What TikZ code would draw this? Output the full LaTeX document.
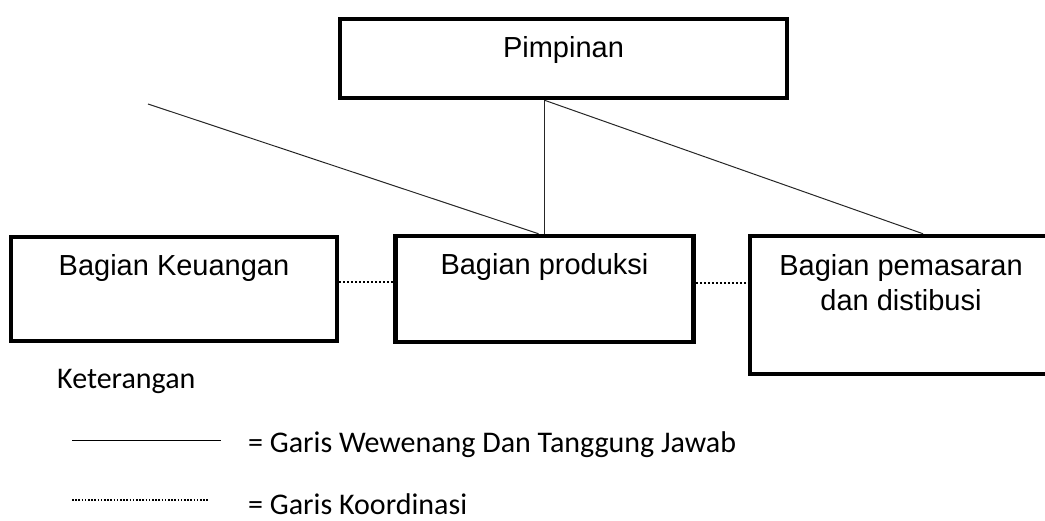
\documentclass[tikz,border=0pt]{standalone}
\usepackage{fontspec}
\setmainfont{Liberation Sans}
\newfontfamily\legendfont{Carlito}
\usetikzlibrary{positioning, calc}

\begin{document}
\begin{tikzpicture}[
  x=1pt, y=-1pt,
  unitbox/.style={
    rectangle, draw=black, line width=4.5pt,
    inner sep=0pt, text height=39pt, align=center,
    font=\fontsize{29}{35}\selectfont
  },
  authline/.style={line width=1pt, draw=black!85},
  coordline/.style={line width=2.4pt, dash pattern=on 2.2pt off 1.8pt},
  legendline/.style={line width=1pt},
  legenddots/.style={line width=1.8pt, dash pattern=on 1.6pt off 1.6pt},
  legendtext/.style={
    anchor=base west, inner sep=0pt, text depth=0pt,
    font=\legendfont\fontsize{30}{35}\selectfont
  }
]
\path[use as bounding box, clip] (0,0) rectangle (1045,521);

% ── Top ──
\node[unitbox, minimum width=447pt, text depth=40pt] (pimpinan) at (563.5,58.5) {Pimpinan};

% ── Units (side by side) ──
\node[unitbox, minimum width=326pt, text depth=65pt] (keuangan) at (174,289) {Bagian Keuangan};
\node[unitbox, minimum width=298pt, text depth=67pt, right=54pt of keuangan] (produksi) {Bagian produksi};
\node[unitbox, minimum width=302pt, text height=75pt, text depth=63pt, anchor=north west]
  (pemasaran) at ($(produksi.north east)+(52,0)$) {Bagian pemasaran\\dan distibusi};

% ── Free end of the long line ──
\coordinate (kiri) at (148,104);

% ── Lines of authority ──
\draw[authline] (produksi.north) -- (produksi.north |- pimpinan.south);
\draw[authline] (kiri) -- ([xshift=-6pt]produksi.north);
\draw[authline] (produksi.north |- pimpinan.south) -- ([xshift=22pt]pemasaran.north);

% ── Lines of coordination ──
\draw[coordline] ([yshift=7pt]keuangan.east) -- ([yshift=7pt]keuangan.east -| produksi.west);
\draw[coordline] ([yshift=6pt]produksi.east) -- ([yshift=6pt]produksi.east -| pemasaran.west);

% ── Legend ──
\node[legendtext] (keterangan) at (57,389) {Keterangan};

\coordinate (garisA) at (72,441);
\coordinate (garisB) at (221,441);
\draw[legendline] (garisA) -- (garisB);
\node[legendtext] (wewenang) at (248,453) {= Garis Wewenang Dan Tanggung Jawab};

\coordinate (titikA) at (72,500);
\coordinate (titikB) at (208,500);
\draw[legenddots] (titikA) -- (titikB);
\node[legendtext] (koordinasi) at (248,514) {= Garis Koordinasi};

\end{tikzpicture}
\end{document}
